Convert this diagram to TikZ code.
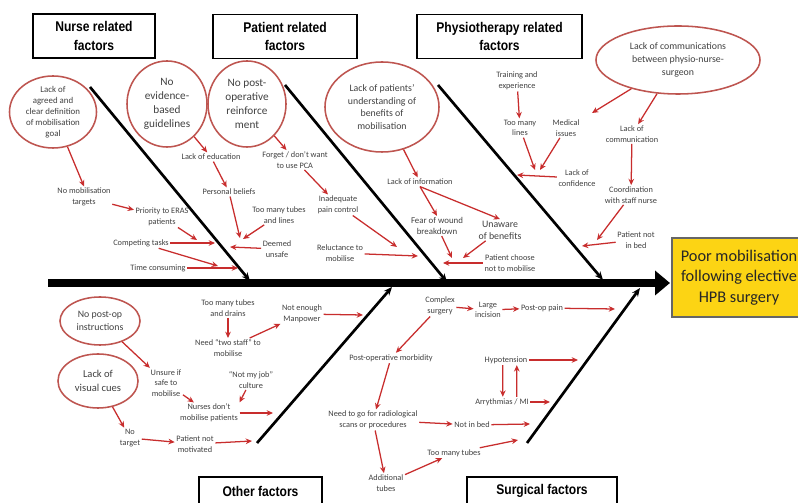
\documentclass[tikz,border=0pt]{standalone}
\usepackage{fontspec}
\setmainfont{Carlito}
\newfontfamily\titlefont[FakeStretch=0.86]{Liberation Sans}
\usetikzlibrary{shapes.geometric,arrows.meta}

\definecolor{arrowred}{RGB}{200,45,45}
\definecolor{ringred}{RGB}{190,85,80}
\definecolor{txtgray}{RGB}{65,65,65}
\definecolor{goalyellow}{RGB}{252,212,20}

\begin{document}
\begin{tikzpicture}[x=0.025cm, y=-0.025cm,
    cause/.style={align=center, inner sep=1pt, text=txtgray,
      font=\fontsize{5.9}{7.5}\selectfont},
    bubble/.style={ellipse, draw=ringred, line width=1.1pt, align=center,
      inner sep=0pt, text=txtgray, font=\fontsize{7}{9}\selectfont},
    catbox/.style={rectangle, draw=black, line width=1.2pt, fill=white,
      align=center, font=\titlefont\bfseries\fontsize{10}{13}\selectfont},
    goalbox/.style={rectangle, draw=black!60, line width=0.8pt, fill=goalyellow,
      align=center, text=black!85, font=\fontsize{11.6}{14.6}\selectfont},
    feed/.style={draw=arrowred, line width=0.9pt, -{Stealth[length=4.5pt,width=4pt]}},
    bone/.style={line width=1.9pt, -{Stealth[length=6pt,width=5pt]}},
    spine/.style={line width=5pt, -{Triangle[length=0.375cm,width=0.6cm]}}]

  \clip (0,0) rectangle (798,503);
  \fill[white] (0,0) rectangle (798,503);

  % effect and spine
  \node[goalbox, minimum width=3.35cm, minimum height=1.975cm] (goal) at (739,277.5)
    {Poor mobilisation\\following elective\\HPB surgery};
  \coordinate (tail) at (48,283);
  \coordinate (head) at (670,283);
  \draw[spine] (tail) -- (head);

  % category boxes
  \node[catbox, minimum width=3.05cm, minimum height=1.1cm] (nurse) at (94,36) {Nurse related\\factors};
  \node[catbox, minimum width=3.6cm, minimum height=1.1cm] (patient) at (285,36.5) {Patient related\\factors};
  \node[catbox, minimum width=4.125cm, minimum height=1.1cm] (physio) at (499.5,36.5) {Physiotherapy related\\factors};
  \node[catbox, minimum width=3.075cm, minimum height=0.7cm] (other) at (260.5,491) {Other factors};
  \node[catbox, minimum width=3.75cm, minimum height=0.7cm] (surgical) at (542,491) {Surgical factors};

  % bones
  \coordinate (nurseTop) at (90,87);     \coordinate (nurseEnd) at (250,281);
  \coordinate (patientTop) at (285,85);  \coordinate (patientEnd) at (447,282);
  \coordinate (physioTop) at (438,85);   \coordinate (physioEnd) at (603,280);
  \coordinate (otherLow) at (257,443);   \coordinate (otherEnd) at (392,287);
  \coordinate (surgLow) at (527,443);    \coordinate (surgEnd) at (640,288);
  \draw[bone] (nurseTop) -- (nurseEnd);
  \draw[bone] (patientTop) -- (patientEnd);
  \draw[bone] (physioTop) -- (physioEnd);
  \draw[bone] (otherLow) -- (otherEnd);
  \draw[bone] (surgLow) -- (surgEnd);

  % nurse related
  \node[bubble, minimum width=2.175cm, minimum height=1.8cm, inner ysep=-4pt,
    font=\fontsize{6.3}{7.9}\selectfont] (goalDef) at (53,112)
    {Lack of\\agreed and\\clear definition\\of mobilisation\\goal};
  \node[bubble, minimum width=2cm, minimum height=2.15cm, font=\fontsize{8}{10}\selectfont]
    (noEvidence) at (167,104) {No\\evidence-\\based\\guidelines};
  \node[bubble, minimum width=1.95cm, minimum height=2.15cm, font=\fontsize{8}{10}\selectfont]
    (noReinf) at (247,104) {No post-\\operative\\reinforce\\ment};
  \node[cause] (noTargets) at (84,197) {No mobilisation\\targets};
  \node[cause] (eras) at (162,217) {Priority to ERAS\\patients};
  \node[cause] (competing) at (141,243) {Competing tasks};
  \node[cause] (timeCons) at (158,268) {Time consuming};
  \node[cause] (lackEdu) at (211,157) {Lack of education};
  \node[cause] (beliefs) at (229,192) {Personal beliefs};
  \node[cause] (tubesLines) at (279,215) {Too many tubes\\and lines};
  \node[cause] (unsafe) at (277,249) {Deemed\\unsafe};

  \coordinate (c1) at (197,240);
  \coordinate (c2) at (215,243);
  \coordinate (c3) at (218,266);
  \coordinate (c4) at (238,268);
  \coordinate (c5) at (230,247);
  \coordinate (c6) at (240,238);
  \coordinate (c7) at (243,239);
  \draw[feed] (goalDef) -- (noTargets.north);
  \draw[feed] (noTargets) -- (eras);
  \draw[feed] (eras) -- (c1);
  \draw[feed] (competing) -- (c2);
  \draw[feed] (competing) -- (c3);
  \draw[feed] (timeCons) -- (c4);
  \draw[feed] (unsafe) -- (c5);
  \draw[feed] (noEvidence) -- (lackEdu);
  \draw[feed] (lackEdu) -- (beliefs);
  \draw[feed] (beliefs) -- (c6);
  \draw[feed] (tubesLines) -- (c7);

  % patient related
  \node[cause] (forgetPCA) at (295,160) {Forget / don't want\\to use PCA};
  \node[cause] (painCtrl) at (338,205) {Inadequate\\pain control};
  \node[cause] (reluct) at (340,253) {Reluctance to\\mobilise};
  \node[bubble, minimum width=2.85cm, minimum height=2.25cm, font=\fontsize{7}{9}\selectfont]
    (understand) at (382,107) {Lack of patients'\\understanding of\\benefits of\\mobilisation};
  \node[cause] (lackInfo) at (420,182) {Lack of information};
  \node[cause, font=\fontsize{6.3}{7.5}\selectfont] (fearWound) at (437,226) {Fear of wound\\breakdown};
  \node[cause, font=\fontsize{7}{8.5}\selectfont] (unaware) at (500,230) {Unaware\\of benefits};
  \node[cause] (chooseNot) at (510,263) {Patient choose\\not to mobilise};

  \coordinate (c8) at (397,247);
  \coordinate (c9) at (418,256);
  \coordinate (c10) at (452,258);
  \coordinate (c11) at (463,258);
  \coordinate (c12) at (443,263);
  \draw[feed] (noReinf) -- (forgetPCA);
  \draw[feed] (forgetPCA) -- (painCtrl);
  \draw[feed] (painCtrl) -- (c8);
  \draw[feed] (reluct) -- (c9);
  \draw[feed] (understand) -- (lackInfo);
  \draw[feed] (lackInfo.south) -- (fearWound.north);
  \draw[feed] (lackInfo.south) -- (unaware.north);
  \draw[feed] (fearWound) -- (c10);
  \draw[feed] (unaware) -- (c11);
  \draw[feed] (chooseNot) -- (c12);

  % physiotherapy related
  \node[cause] (training) at (517,81) {Training and\\experience};
  \node[cause] (manyLines) at (520,128) {Too many\\lines};
  \node[cause] (medical) at (566,128) {Medical\\issues};
  \node[cause] (confidence) at (577,178) {Lack of\\confidence};
  \node[bubble, minimum width=4.1cm, minimum height=1.7cm] (commBubble) at (678,60)
    {Lack of communications\\between physio-nurse-\\surgeon};
  \node[cause] (lackComm) at (632,134) {Lack of\\communication};
  \node[cause] (coord) at (631,195) {Coordination\\with staff nurse};
  \node[cause] (notInBedTop) at (636,240) {Patient not\\in bed};

  \coordinate (c13) at (535,170);
  \coordinate (c14) at (540,170);
  \coordinate (c15) at (517,175);
  \coordinate (c16) at (592,113);
  \coordinate (c17) at (597,240);
  \coordinate (c18) at (582,246);
  \draw[feed] (training) -- (manyLines);
  \draw[feed] (manyLines) -- (c13);
  \draw[feed] (medical) -- (c14);
  \draw[feed] (confidence) -- (c15);
  \draw[feed] (commBubble) -- (c16);
  \draw[feed] (commBubble) -- (lackComm);
  \draw[feed] (lackComm) -- (coord);
  \draw[feed] (coord) -- (c17);
  \draw[feed] (notInBedTop) -- (c18);

  % other factors
  \node[bubble, minimum width=2cm, minimum height=1.2cm] (postOpInstr) at (100,321)
    {No post-op\\instructions};
  \node[bubble, minimum width=2cm, minimum height=1.35cm, font=\fontsize{7.5}{10}\selectfont]
    (visualCues) at (98,381) {Lack of\\visual cues};
  \node[cause] (unsure) at (166,383) {Unsure if\\safe to\\mobilise};
  \node[cause] (nursesDont) at (209,413) {Nurses don't\\mobilise patients};
  \node[cause] (tubesDrains) at (228,308) {Too many tubes\\and drains};
  \node[cause] (twoStaff) at (228,348) {Need ``two staff'' to\\mobilise};
  \node[cause] (notEnough) at (302,314) {Not enough\\Manpower};
  \node[cause] (notMyJob) at (251,380) {``Not my job''\\culture};
  \node[cause] (noTarget) at (130,438) {No\\target};
  \node[cause] (notMotiv) at (195,444) {Patient not\\motivated};

  \coordinate (c19) at (363,315);
  \coordinate (c20) at (273,413);
  \coordinate (c21) at (252,441);
  \draw[feed] (postOpInstr) -- (unsure);
  \draw[feed] (visualCues) -- (noTarget);
  \draw[feed] (unsure) -- (nursesDont);
  \draw[feed] (tubesDrains) -- (twoStaff);
  \draw[feed] (twoStaff) -- (notEnough);
  \draw[feed] (notEnough) -- (c19);
  \draw[feed] (notMyJob) -- (nursesDont.north east);
  \draw[feed] (nursesDont) -- (c20);
  \draw[feed] (noTarget) -- (notMotiv);
  \draw[feed] (notMotiv) -- (c21);

  % surgical factors
  \node[cause] (complex) at (440,306) {Complex\\surgery};
  \node[cause] (incision) at (488,310) {Large\\incision};
  \node[cause] (pain) at (542,308) {Post-op pain};
  \node[cause] (morbidity) at (391,358) {Post-operative morbidity};
  \node[cause] (radiology) at (373,420) {Need to go for radiological\\scans or procedures};
  \node[cause] (notInBed) at (472,425) {Not in bed};
  \node[cause] (addTubes) at (386,483) {Additional\\tubes};
  \node[cause] (manyTubes) at (454,453) {Too many tubes};
  \node[cause] (hypo) at (506,360) {Hypotension};
  \node[cause] (arrhythmia) at (502,402) {Arrythmias / MI};

  \coordinate (c22) at (615,309);
  \coordinate (c23) at (530,424);
  \coordinate (c24) at (518,440);
  \coordinate (c25) at (578,360);
  \coordinate (c26) at (550,402);
  \draw[feed] (complex) -- (incision);
  \draw[feed] (incision) -- (pain);
  \draw[feed] (pain) -- (c22);
  \draw[feed] (complex) -- (morbidity);
  \draw[feed] (morbidity) -- (radiology);
  \draw[feed] (radiology) -- (notInBed);
  \draw[feed] (notInBed) -- (c23);
  \draw[feed] (radiology) -- (addTubes);
  \draw[feed] (addTubes) -- (manyTubes);
  \draw[feed] (manyTubes) -- (c24);
  \draw[feed] (hypo) -- (c25);
  \draw[feed] ([xshift=-0.08cm]hypo.south) -- ([xshift=0.02cm]arrhythmia.north);
  \draw[feed] ([xshift=0.37cm]arrhythmia.north) -- ([xshift=0.27cm]hypo.south);
  \draw[feed] (arrhythmia) -- (c26);

\end{tikzpicture}
\end{document}
